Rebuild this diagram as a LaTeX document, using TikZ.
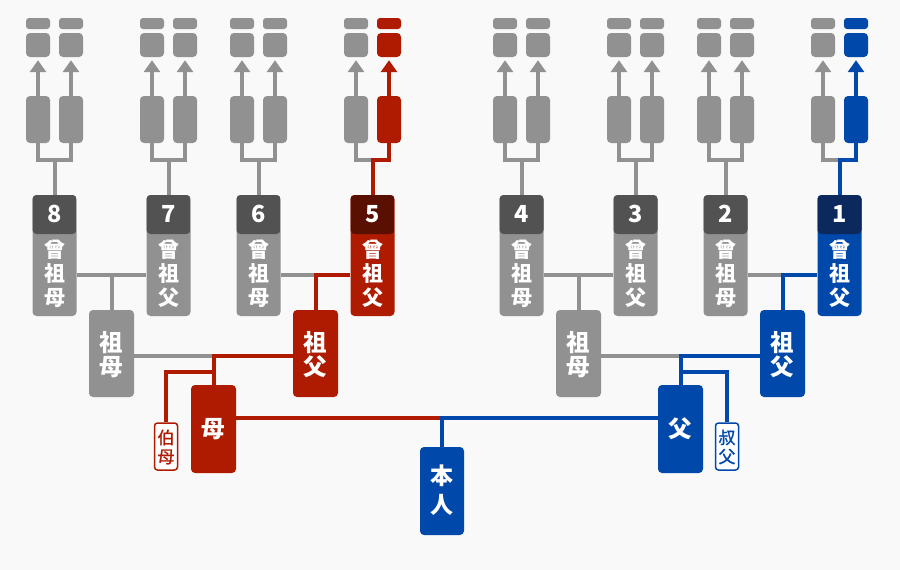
\documentclass[tikz,border=0pt]{standalone}
\usepackage{fontspec}
\setmainfont{Noto Sans CJK JP}
\newfontfamily\sibfont[FakeBold=1.2]{Noto Sans CJK JP}
\usetikzlibrary{arrows.meta}
\definecolor{bg}{HTML}{F9F9F9}
\definecolor{gr}{HTML}{919191}
\definecolor{grd}{HTML}{525252}
\definecolor{rd}{HTML}{AE1B00}
\definecolor{rdd}{HTML}{5A1000}
\definecolor{bl}{HTML}{0049AA}
\definecolor{bld}{HTML}{0B295C}
\newcommand\ggbox[6]{%
  \node[box, fill=#3, minimum width=44pt, minimum height=121pt,
    path picture={\fill[#4] ([yshift=1pt]path picture bounding box.north west) rectangle ([yshift=-39pt]path picture bounding box.north east);}] (#1) at (#2,255.5) {};
  \node[numtxt] (#1n) at (#2,214) {#5};
  \node[lbl] (#1t) at (#2,274) {曾\\祖\\#6};
}
\begin{document}
\begin{tikzpicture}[x=1pt,y=-1pt,
  box/.style={rectangle, rounded corners=4pt, inner sep=0pt, draw=none},
  bar/.style={box, rounded corners=3pt, minimum width=24pt, minimum height=11pt},
  sq/.style={box, minimum width=24pt, minimum height=24pt},
  tall/.style={box, minimum width=24pt, minimum height=47pt},
  ln/.style={line width=4pt},
  arr/.style={line width=4pt, -{Triangle[width=16pt,length=12pt]}},
  numtxt/.style={text=white, font=\bfseries\fontsize{23.5}{23.5}\selectfont, inner sep=0pt},
  lbl/.style={text=white, font=\bfseries\fontsize{21}{24}\selectfont, align=center, inner sep=0pt},
  lblb/.style={lbl, font=\bfseries\fontsize{23.5}{24.5}\selectfont},
  lblc/.style={lbl, font=\bfseries\fontsize{23}{29}\selectfont},
  sib/.style={box, rounded corners=3pt, fill=white, line width=1.5pt, minimum width=23pt, minimum height=47pt},
  sibtxt/.style={font=\sibfont\fontsize{17}{19}\selectfont, align=center, inner sep=0pt}
]
\path[fill=bg, use as bounding box] (0,0) rectangle (900,570);

% top stub columns
\foreach \n/\x/\c in {1/38/gr,2/71/gr,3/152/gr,4/185/gr,5/242/gr,6/275/gr,7/356/gr,8/389/rd,9/505/gr,10/538/gr,11/619/gr,12/652/gr,13/709/gr,14/742/gr,15/823/gr,16/856/bl}{
  \node[bar,fill=\c] (b\n) at (\x,23.5) {};
  \node[sq,fill=\c] (s\n) at (\x,45) {};
  \node[tall,fill=\c] (t\n) at (\x,119.5) {};
  \draw[arr,color=\c] (t\n.north) -- ([yshift=-3pt]s\n.south);
}

% great-grandparents
\ggbox{n8}{54.5}{gr}{grd}{8}{母}
\ggbox{n7}{168.5}{gr}{grd}{7}{父}
\ggbox{n6}{258.5}{gr}{grd}{6}{母}
\ggbox{n5}{372.5}{rd}{rdd}{5}{父}
\ggbox{n4}{521.5}{gr}{grd}{4}{母}
\ggbox{n3}{635.5}{gr}{grd}{3}{父}
\ggbox{n2}{725.5}{gr}{grd}{2}{母}
\ggbox{n1}{839.5}{bl}{bld}{1}{父}

% grandparents
\node[box, fill=gr, minimum width=45pt, minimum height=87pt] (gmL) at (111.5,353.5) {};
\node[lblb] (gmLt) at (111.5,354.5) {祖\\母};
\node[box, fill=rd, minimum width=45pt, minimum height=87pt] (gfL) at (315.5,353.5) {};
\node[lblb] (gfLt) at (315.5,354.5) {祖\\父};
\node[box, fill=gr, minimum width=45pt, minimum height=87pt] (gmR) at (578.5,353.5) {};
\node[lblb] (gmRt) at (578.5,354.5) {祖\\母};
\node[box, fill=bl, minimum width=45pt, minimum height=87pt] (gfR) at (782.5,353.5) {};
\node[lblb] (gfRt) at (782.5,354.5) {祖\\父};

% parents, self, siblings
\node[box, fill=rd, minimum width=45pt, minimum height=88pt] (mo) at (213.5,429) {};
\node[lblb] (mot) at (213.5,429) {母};
\node[box, fill=bl, minimum width=45pt, minimum height=88pt] (fa) at (680.5,429) {};
\node[lblb] (fat) at (680.5,429) {父};
\node[box, fill=bl, minimum width=44pt, minimum height=88pt] (me) at (442,491) {};
\node[lblc] (met) at (442,490.5) {本\\人};
\node[sib, draw=rd] (oba) at (166,446.5) {};
\node[sibtxt, text=rd] (obat) at (166,447) {伯\\母};
\node[sib, draw=bl] (oji) at (727,446.5) {};
\node[sibtxt, text=bl] (ojit) at (727,447) {叔\\父};

% junctions above great-grandparents
\foreach \g/\l/\r/\x in {n8/1/2/54.5, n7/3/4/168.5, n6/5/6/258.5, n4/9/10/521.5, n3/11/12/635.5, n2/13/14/725.5}{
  \coordinate (j\g) at (\x,160);
  \draw[ln,gr] (t\l.south) -- (t\l.south |- j\g) -- (t\r.south |- j\g) -- (t\r.south);
  \draw[ln,gr] (j\g) -- (\g.north);
}
\coordinate (jn5) at (372.5,160);
\draw[ln,gr] (t7.south) -- (t7.south |- jn5) -- (jn5);
\draw[ln,rd] (n5.north) -- (jn5) -- (t8.south |- jn5) -- (t8.south);
\coordinate (jn1) at (839.5,160);
\draw[ln,gr] (t15.south) -- (t15.south |- jn1) -- (jn1);
\draw[ln,bl] (n1.north) -- (jn1) -- (t16.south |- jn1) -- (t16.south);

% great-grandparent couples
\coordinate (m87) at (111.5,275);
\draw[ln,gr] (n8.east |- m87) -- (n7.west |- m87);
\draw[ln,gr] (m87) -- (gmL.north);
\coordinate (m65) at (315.5,275);
\draw[ln,gr] (n6.east |- m65) -- (m65);
\draw[ln,rd] (n5.west |- m65) -- (m65) -- (gfL.north);
\coordinate (m43) at (578.5,275);
\draw[ln,gr] (n4.east |- m43) -- (n3.west |- m43);
\draw[ln,gr] (m43) -- (gmR.north);
\coordinate (m21) at (782.5,275);
\draw[ln,gr] (n2.east |- m21) -- (m21);
\draw[ln,bl] (n1.west |- m21) -- (m21) -- (gfR.north);

% grandparent couples
\coordinate (pL) at (213.5,356);
\draw[ln,gr] (gmL.east |- pL) -- (pL);
\draw[ln,rd] (gfL.west |- pL) -- (pL) -- (mo.north);
\coordinate (sL) at (213.5,372);
\draw[ln,rd] (sL) -- (oba.north |- sL) -- (oba.north);
\coordinate (pR) at (680.5,356);
\draw[ln,gr] (gmR.east |- pR) -- (pR);
\draw[ln,bl] (gfR.west |- pR) -- (pR) -- (fa.north);
\coordinate (sR) at (680.5,372);
\draw[ln,bl] (sR) -- (oji.north |- sR) -- (oji.north);

% parents
\coordinate (q) at (442,418);
\draw[ln,rd] (mo.east |- q) -- (q);
\draw[ln,bl] (fa.west |- q) -- (q) -- (me.north);
\end{tikzpicture}
\end{document}
